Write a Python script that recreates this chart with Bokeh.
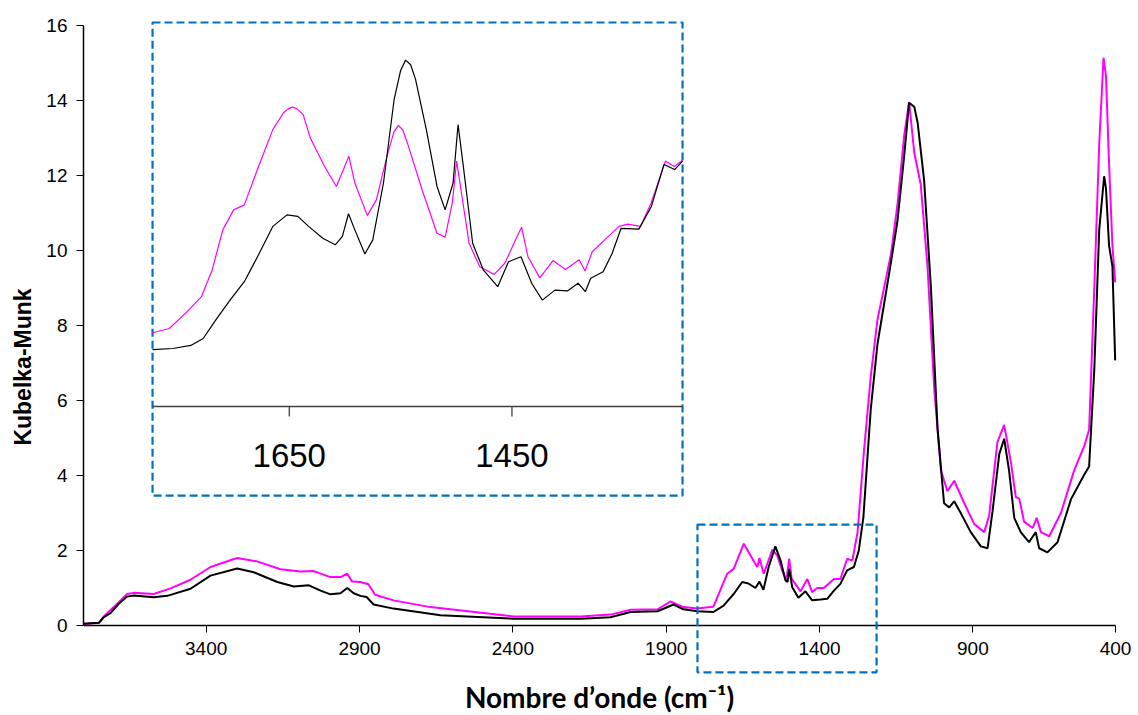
from bokeh.plotting import figure
from bokeh.models import Range1d, FixedTicker, BoxAnnotation
from bokeh.core.properties import value
from bokeh.embed import file_html
from bokeh.resources import INLINE

# ---------------- data ----------------
wn_black = [3800, 3750, 3734, 3712, 3685, 3658, 3636, 3571, 3527, 3451, 3386, 3299, 3245, 3168,
            3114, 3065, 3027, 2995, 2962, 2940, 2919, 2897, 2877, 2854, 2789, 2636, 2398, 2179,
            2082, 2016, 1928, 1876, 1844, 1798, 1746, 1713, 1680, 1652, 1632, 1609, 1596, 1583,
            1566, 1544, 1527, 1511, 1504, 1499, 1489, 1469, 1446, 1424, 1397, 1375, 1353, 1332,
            1310, 1288, 1272, 1257, 1233, 1211, 1189, 1167, 1146, 1124, 1108, 1091, 1080, 1059,
            1037, 1015, 994, 977, 961, 939, 907, 874, 852, 836, 814, 798, 782, 765, 744, 717,
            695, 684, 657, 624, 580, 537, 521, 504, 488, 472, 466, 456, 445, 436]
km_black = [0.045, 0.07, 0.22, 0.33, 0.58, 0.77, 0.80, 0.75, 0.79, 0.98, 1.33, 1.52, 1.42, 1.16,
            1.04, 1.07, 0.93, 0.83, 0.86, 1.00, 0.86, 0.79, 0.76, 0.56, 0.45, 0.27, 0.18, 0.18,
            0.22, 0.36, 0.38, 0.56, 0.43, 0.38, 0.36, 0.53, 0.84, 1.16, 1.12, 1.00, 1.17, 0.95,
            1.56, 2.11, 1.73, 1.20, 1.16, 1.51, 1.02, 0.74, 0.91, 0.67, 0.69, 0.71, 0.93, 1.11,
            1.47, 1.56, 2.00, 2.89, 5.77, 7.51, 8.60, 9.69, 10.78, 12.52, 13.94, 13.83, 13.40, 11.87,
            9.03, 5.22, 3.26, 3.15, 3.31, 2.99, 2.49, 2.11, 2.06, 3.04, 4.57, 4.98, 4.13, 2.87, 2.49, 2.22,
            2.49, 2.06, 1.95, 2.22, 3.37, 4.02, 4.24, 6.85, 10.56, 11.98, 11.65, 10.13, 9.58, 7.07]

wn_magenta = [3800, 3750, 3734, 3685, 3658, 3636, 3571, 3516, 3451, 3386, 3299, 3234, 3158, 3092,
              3049, 2995, 2962, 2940, 2924, 2897, 2871, 2849, 2789, 2669, 2398, 2179, 2082, 2016,
              1928, 1886, 1844, 1798, 1755, 1746, 1701, 1680, 1647, 1619, 1603, 1596, 1582, 1554,
              1538, 1522, 1508, 1499, 1491, 1462, 1440, 1424, 1408, 1386, 1353, 1332, 1310, 1293,
              1276, 1255, 1233, 1211, 1189, 1167, 1146, 1124, 1108, 1091, 1070, 1048, 1026, 1004,
              983, 961, 928, 896, 863, 847, 820, 798, 776, 760, 749, 733, 705, 692, 678, 651, 613,
              570, 537, 521, 504, 488, 474, 466, 456, 445, 436]
km_magenta = [0.04, 0.07, 0.24, 0.62, 0.84, 0.87, 0.84, 0.99, 1.22, 1.56, 1.80, 1.71, 1.50, 1.44,
              1.45, 1.29, 1.29, 1.38, 1.17, 1.16, 1.10, 0.82, 0.67, 0.49, 0.24, 0.24, 0.29, 0.42,
              0.43, 0.64, 0.49, 0.45, 0.49, 0.50, 1.38, 1.51, 2.18, 1.78, 1.56, 1.80, 1.38, 2.02,
              1.87, 1.47, 1.20, 1.78, 1.25, 0.91, 1.24, 0.89, 1.00, 1.00, 1.24, 1.24, 1.78, 1.73,
              2.49, 4.67, 6.64, 8.16, 9.03, 9.91, 11.22, 13.07, 13.96, 12.60, 11.76, 9.58, 6.31, 4.13,
              3.58, 3.86, 3.26, 2.71, 2.49, 2.93, 4.89, 5.35, 4.35, 3.42, 3.39, 2.77, 2.60, 2.87, 2.49, 2.38, 3.00,
              4.13, 4.78, 5.22, 9.03, 12.85, 15.14, 14.65, 12.31, 10.13, 9.15]

# inset (zoom on 1773-1297 cm-1), arbitrary intensity units
wn_inset_black = [1772.8, 1754.5, 1738.5, 1727.3, 1716.1, 1703.2, 1690.4, 1677.6, 1664.8, 1652.0,
                  1642.3, 1632.7, 1619.9, 1608.7, 1602.3, 1596.8, 1591.1, 1582.1, 1575.0, 1565.4,
                  1555.8, 1550.0, 1545.5, 1541.0, 1536.6, 1526.9, 1517.3, 1510.0, 1502.9, 1498.4,
                  1493.3, 1485.3, 1475.6, 1462.8, 1453.1, 1441.9, 1432.3, 1422.7, 1411.4, 1400.2,
                  1390.6, 1384.1, 1379.3, 1368.1, 1360.0, 1352.0, 1336.0, 1324.8, 1313.5, 1303.9,
                  1296.8]
inset_black = [1.48, 1.51, 1.59, 1.77, 2.25, 2.77, 3.25, 3.95, 4.69, 4.99,
               4.95, 4.69, 4.38, 4.21, 4.43, 5.02, 4.60, 3.97, 4.34, 5.82,
               8.00, 8.75, 9.02, 8.90, 8.52, 7.21, 5.73, 5.12, 5.82, 7.34,
               6.17, 4.25, 3.55, 3.12, 3.77, 3.90, 3.21, 2.77, 3.03, 3.01,
               3.21, 2.99, 3.34, 3.51, 3.99, 4.64, 4.62, 5.21, 6.30, 6.17,
               6.39]
wn_inset_magenta = [1772.8, 1757.7, 1741.7, 1728.9, 1719.3, 1709.7, 1700.0, 1690.4, 1677.6, 1664.8,
                    1655.2, 1651.0, 1647.2, 1643.0, 1637.5, 1631.1, 1618.3, 1607.7, 1601.3, 1596.5,
                    1591.1, 1579.9, 1571.8, 1562.2, 1556.0, 1552.0, 1548.0, 1543.0, 1530.2, 1517.3,
                    1510.0, 1503.6, 1499.7, 1494.9, 1488.5, 1478.9, 1466.0, 1456.4, 1446.8, 1441.4,
                    1435.6, 1425.0, 1413.1, 1401.9, 1389.7, 1384.3, 1377.9, 1366.7, 1353.9, 1345.9,
                    1334.6, 1325.0, 1312.2, 1304.2, 1296.8]
inset_magenta = [1.92, 2.03, 2.47, 2.86, 3.55, 4.60, 5.12, 5.25, 6.25, 7.21,
                 7.65, 7.75, 7.80, 7.75, 7.60, 6.99, 6.25, 5.73, 6.17, 6.52,
                 5.82, 4.97, 5.38, 6.52, 7.15, 7.32, 7.20, 6.78, 5.60, 4.51,
                 4.41, 5.30, 6.39, 5.47, 4.25, 3.64, 3.44, 3.73, 4.34, 4.67,
                 3.90, 3.35, 3.80, 3.57, 3.82, 3.53, 4.03, 4.34, 4.69, 4.75,
                 4.69, 5.30, 6.39, 6.25, 6.41]

x_ticks = [3400, 2900, 2400, 1900, 1400, 900, 435]
x_tick_labels = ["3400", "2900", "2400", "1900", "1400", "900", "400"]
y_ticks = [0, 2, 4, 6, 8, 10, 12, 14, 16]
inset_ticks = [1650, 1450]
inset_tick_labels = ["1650", "1450"]

# inset window (in inset units) and zoomed region (in main units)
inset_x = (1772.8, 1296.8)
inset_box_y = (10.0, -2.32)
zoom_x = (1798, 1214)
zoom_y = (2.69, -1.25)

FONT = "Liberation Sans"
BLUE = "#0070C0"

p = figure(width=1136, height=713, output_backend="svg", toolbar_location=None,
           x_range=Range1d(3800, 366.5), y_range=Range1d(-2.347, 16.133),
           min_border_left=83, min_border_right=0, min_border_top=20, min_border_bottom=0)
p.outline_line_color = None
p.xgrid.grid_line_color = None
p.ygrid.grid_line_color = None
p.background_fill_color = "white"

p.extra_x_ranges = {"inset": Range1d(1834.8, 889.1)}
p.extra_y_ranges = {"inset": Range1d(-7.995, 10.052)}

# axes styling
xa = p.xaxis[0]
xa.fixed_location = 0
xa.bounds = (435, 3800)
xa.ticker = FixedTicker(ticks=x_ticks)
xa.major_label_overrides = {t: l for t, l in zip(x_ticks, x_tick_labels)}
xa.minor_tick_line_color = None
xa.major_tick_out = 7
xa.major_tick_in = 0
xa.major_label_standoff = 10
xa.axis_line_color = "black"
xa.axis_line_width = 1.5
xa.major_tick_line_color = "black"
xa.major_label_text_font = FONT
xa.major_label_text_font_size = "19px"
xa.major_label_text_color = "black"
xa.axis_label = "Nombre d\u2019onde (cm\u207b\u00b9)"
xa.axis_label_text_font = "Lato"
xa.axis_label_text_font_style = "bold"
xa.axis_label_text_font_size = "28px"
xa.axis_label_text_color = "black"
xa.axis_label_standoff = 21

ya = p.yaxis[0]
ya.bounds = (0, 16)
ya.ticker = FixedTicker(ticks=y_ticks)
ya.minor_tick_line_color = None
ya.major_tick_out = 7
ya.major_tick_in = 0
ya.major_label_standoff = 9
ya.axis_line_color = "black"
ya.axis_line_width = 1.5
ya.major_tick_line_color = "black"
ya.major_label_text_font = FONT
ya.major_label_text_font_size = "19px"
ya.major_label_text_color = "black"
ya.axis_label = "Kubelka-Munk"
ya.axis_label_text_font = FONT
ya.axis_label_text_font_style = "bold"
ya.axis_label_text_font_size = "23px"
ya.axis_label_text_color = "black"
ya.axis_label_standoff = 7

# main spectra
p.line(wn_magenta, km_magenta, line_color="#FF00FF", line_width=2)
p.line(wn_black, km_black, line_color="black", line_width=2)

# zoomed region marker on main chart
p.add_layout(BoxAnnotation(left=zoom_x[0], right=zoom_x[1], top=zoom_y[0], bottom=zoom_y[1],
                           fill_alpha=0, line_color=BLUE, line_alpha=1, line_width=2.2,
                           line_dash="8 4"))

# inset
p.add_layout(BoxAnnotation(left=inset_x[0], right=inset_x[1], top=inset_box_y[0], bottom=inset_box_y[1],
                           x_range_name="inset", y_range_name="inset",
                           fill_color="white", fill_alpha=1, line_color=BLUE, line_alpha=1,
                           line_width=2.2, line_dash="8 4", level="underlay"))
p.line(wn_inset_magenta, inset_magenta, line_color="#FF00FF", line_width=1.2,
       x_range_name="inset", y_range_name="inset")
p.line(wn_inset_black, inset_black, line_color="black", line_width=1.2,
       x_range_name="inset", y_range_name="inset")
# inset x axis
p.segment(x0=[inset_x[0]], y0=[0], x1=[inset_x[1]], y1=[0], line_color="#404040", line_width=1.3,
          x_range_name="inset", y_range_name="inset")
p.segment(x0=inset_ticks, y0=[0, 0], x1=inset_ticks, y1=[-0.26, -0.26], line_color="#404040",
          line_width=1.3, x_range_name="inset", y_range_name="inset")
p.text(x=inset_ticks, y=[-1.27, -1.27], text=inset_tick_labels, text_align="center",
       text_baseline="middle", text_font=value(FONT), text_font_size="33px", text_color="black",
       x_range_name="inset", y_range_name="inset")

open("out.html", "w").write(file_html(p, INLINE))
